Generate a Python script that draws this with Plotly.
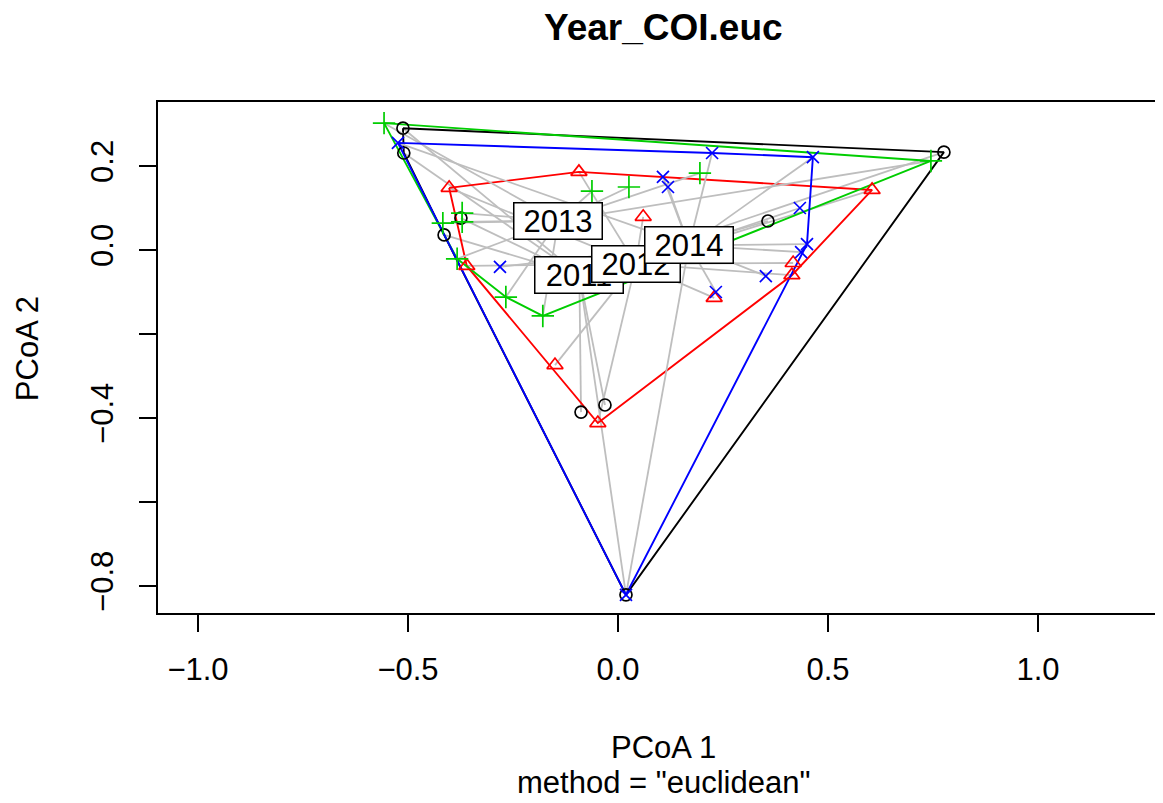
import plotly.graph_objects as go

# ---- data (PCoA scores) ----
years = ["2011", "2012", "2013", "2014"]

pc1_2011 = [-0.512, -0.510, -0.374, -0.414, -0.088, -0.031, 0.019, 0.357, 0.776]
pc2_2011 = [0.290, 0.231, 0.076, 0.036, -0.386, -0.369, -0.821, 0.069, 0.233]

pc1_2012 = [-0.402, -0.093, 0.060, -0.360, -0.150, -0.048, 0.605, 0.417, 0.414, 0.229]
pc2_2012 = [0.148, 0.186, 0.079, -0.038, -0.274, -0.412, 0.143, -0.031, -0.060, -0.114]

pc1_2013 = [-0.557, -0.062, 0.026, -0.371, -0.371, -0.417, -0.383, -0.267, -0.179, 0.195, 0.745]
pc2_2013 = [0.302, 0.140, 0.150, 0.088, 0.067, 0.064, -0.021, -0.112, -0.157, 0.183, 0.212]

pc1_2014 = [-0.524, 0.107, 0.119, 0.224, 0.464, 0.433, 0.450, 0.436, 0.352, 0.233, -0.281, 0.019]
pc2_2014 = [0.255, 0.174, 0.150, 0.231, 0.221, 0.100, 0.014, -0.005, -0.062, -0.100, -0.040, -0.821]

centroid_pc1 = [-0.092, 0.042, -0.142, 0.169]
centroid_pc2 = [-0.060, -0.033, 0.070, 0.011]

x_ticks = [-1.0, -0.5, 0.0, 0.5, 1.0]
x_ticktext = ["\u22121.0", "\u22120.5", "0.0", "0.5", "1.0"]
y_ticks = [-0.8, -0.6, -0.4, -0.2, 0.0, 0.2]
y_ticktext = ["\u22120.8", "", "\u22120.4", "", "0.0", "0.2"]

# ---- styles ----
colors = ["#000000", "#FF0000", "#00CD00", "#0000FF"]
symbols = ["circle-open", "triangle-up-open", "cross-thin-open", "x-thin-open"]
msizes = [12, 14, 16, 12]
FONT = "Liberation Sans, Arial, Helvetica, sans-serif"
FS = 31

groups_x = [pc1_2011, pc1_2012, pc1_2013, pc1_2014]
groups_y = [pc2_2011, pc2_2012, pc2_2013, pc2_2014]


def convex_hull(xs, ys):
    pts = sorted(set(zip(xs, ys)))
    if len(pts) <= 2:
        return pts

    def cross(o, a, b):
        return (a[0] - o[0]) * (b[1] - o[1]) - (a[1] - o[1]) * (b[0] - o[0])

    lower = []
    for p in pts:
        while len(lower) >= 2 and cross(lower[-2], lower[-1], p) <= 0:
            lower.pop()
        lower.append(p)
    upper = []
    for p in reversed(pts):
        while len(upper) >= 2 and cross(upper[-2], upper[-1], p) <= 0:
            upper.pop()
        upper.append(p)
    hull = lower[:-1] + upper[:-1]
    return hull + [hull[0]]


fig = go.Figure()

for i, yr in enumerate(years):
    gx, gy = groups_x[i], groups_y[i]
    cx, cy = centroid_pc1[i], centroid_pc2[i]
    sx, sy = [], []
    for px, py in zip(gx, gy):
        sx += [cx, px, None]
        sy += [cy, py, None]
    fig.add_trace(go.Scatter(x=sx, y=sy, mode="lines",
                             line=dict(color="#BEBEBE", width=1.8),
                             hoverinfo="skip", showlegend=False))
    h = convex_hull(gx, gy)
    fig.add_trace(go.Scatter(x=[p[0] for p in h], y=[p[1] for p in h], mode="lines",
                             line=dict(color=colors[i], width=1.9),
                             hoverinfo="skip", showlegend=False))

for i, yr in enumerate(years):
    fig.add_trace(go.Scatter(x=groups_x[i], y=groups_y[i], mode="markers",
                             marker=dict(symbol=symbols[i], size=msizes[i],
                                         color=colors[i],
                                         line=dict(color=colors[i], width=1.7)),
                             name=yr, showlegend=False))

annotations = []
for i, yr in enumerate(years):
    annotations.append(dict(x=centroid_pc1[i], y=centroid_pc2[i], xref="x", yref="y",
                            text=yr, showarrow=False,
                            font=dict(family=FONT, size=FS, color="black"),
                            bgcolor="white", bordercolor="black", borderwidth=1.5,
                            borderpad=1, width=85, height=33,
                            xanchor="center", yanchor="middle"))

# axis titles, main title and subtitle
annotations += [
    dict(text="<b>Year_COI.euc</b>", x=0.5025, y=1.147, xref="paper", yref="paper",
         showarrow=False, font=dict(family=FONT, size=37, color="black"),
         height=38, xanchor="center", yanchor="middle"),
    dict(text="PCoA 1", x=0.503, y=-0.264, xref="paper", yref="paper",
         showarrow=False, font=dict(family=FONT, size=FS, color="black"),
         xanchor="center", yanchor="middle"),
    dict(text='method = "euclidean"', x=0.503, y=-0.331, xref="paper", yref="paper",
         showarrow=False, font=dict(family=FONT, size=FS, color="black"),
         xanchor="center", yanchor="middle"),
    dict(text="PCoA 2", x=-0.130, y=0.517, xref="paper", yref="paper",
         showarrow=False, textangle=-90, font=dict(family=FONT, size=FS, color="black"),
         xanchor="center", yanchor="middle"),
]

# the page body has an 8px margin; compensate so the plot lands where the reference has it
fig.update_layout(
    width=1155, height=795,
    margin=dict(l=150, r=0, t=94, b=190),
    paper_bgcolor="white", plot_bgcolor="white",
    font=dict(family=FONT, size=FS, color="black"),
    annotations=annotations,
    xaxis=dict(range=[-1.0952, 1.2976], tickvals=x_ticks, ticktext=x_ticktext,
               ticks="outside", ticklen=17, tickwidth=1.5, tickcolor="black",
               showline=True, linecolor="black", linewidth=1.5, mirror=True,
               showgrid=False, zeroline=False, ticklabelstandoff=11,
               tickfont=dict(family=FONT, size=FS, color="black")),
    yaxis=dict(range=[-0.8643, 0.3524], tickvals=y_ticks, ticktext=y_ticktext,
               ticks="outside", ticklen=17, tickwidth=1.5, tickcolor="black",
               showline=True, linecolor="black", linewidth=1.5, mirror=False,
               showgrid=False, zeroline=False, tickangle=-90, ticklabelstandoff=14,
               tickfont=dict(family=FONT, size=FS, color="black")),
)

fig.write_html("out.html")
